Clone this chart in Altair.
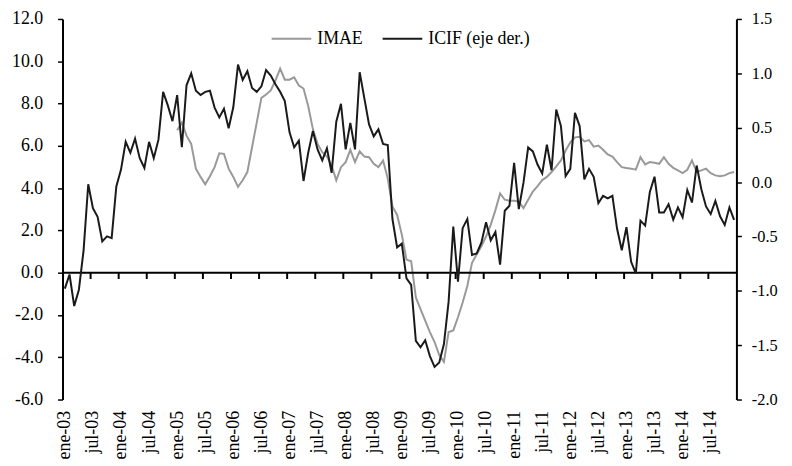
import altair as alt
import pandas as pd

# ---------------- data ----------------
icif = [
    -0.98, -0.85, -1.14, -0.99, -0.63, -0.02, -0.24, -0.32, -0.545, -0.50, -0.515, -0.04,
    0.115, 0.37, 0.27, 0.40, 0.22, 0.13, 0.37, 0.22, 0.39, 0.83, 0.705, 0.56,
    0.80, 0.32, 0.89, 1.00, 0.84, 0.80, 0.83, 0.84, 0.685, 0.595, 0.675, 0.495,
    0.69, 1.08, 0.94, 1.02, 0.865, 0.83, 0.88, 1.03, 0.98, 0.90, 0.83, 0.745,
    0.46, 0.32, 0.38, 0.01, 0.27, 0.47, 0.30, 0.20, 0.31, 0.085, 0.555, 0.72,
    0.30, 0.545, 0.30, 1.01, 0.77, 0.53, 0.42, 0.485, 0.35, 0.34, -0.34, -0.60,
    -0.566, -0.885, -0.945, -1.46, -1.52, -1.455, -1.60, -1.70, -1.66, -1.49, -1.10, -0.41,
    -0.915, -0.424, -0.34, -0.67, -0.657, -0.557, -0.37, -0.536, -0.46, -0.76, -0.264, -0.218,
    0.176, -0.248, -0.006, 0.318, 0.282, 0.161, 0.079, 0.343, 0.109, 0.667, 0.515, 0.055,
    0.122, 0.636, 0.515, 0.025, 0.122, 0.049, -0.194, -0.127, -0.151, -0.127, -0.43, -0.627,
    -0.415, -0.733, -0.839, -0.355, -0.40, -0.091, 0.049, -0.279, -0.279, -0.203, -0.345, -0.233,
    -0.324, -0.073, -0.188, 0.152, -0.066, -0.224, -0.294, -0.173, -0.315, -0.394, -0.233, -0.348,
]

imae_start = 24  # ene-05
imae = [
    6.74, 7.10, 6.48, 6.09, 4.92, 4.53, 4.18, 4.56, 4.99, 5.65, 5.62, 4.92,
    4.53, 4.06, 4.37, 4.76, 5.93, 7.10, 8.27, 8.43, 8.62, 9.09, 9.65, 9.13,
    9.13, 9.24, 8.85, 8.71, 7.88, 6.79, 6.09, 5.70, 5.49, 5.07, 4.37, 4.99,
    5.23, 5.81, 5.23, 5.74, 5.49, 5.46, 5.15, 4.99, 5.30, 4.45, 3.12, 2.73,
    1.80, 0.62, 0.54, -1.17, -1.72, -2.27, -2.81, -3.28, -3.90, -4.22, -2.81, -2.73,
    -2.11, -1.41, -0.63, 0.47, 0.86, 1.25, 1.71, 2.26, 2.96, 3.75, 3.45, 3.40,
    3.40, 3.36, 3.05, 3.45, 3.84, 4.09, 4.38, 4.53, 4.76, 5.03, 5.31, 5.78,
    6.16, 6.40, 6.43, 6.21, 6.27, 5.96, 6.01, 5.81, 5.59, 5.49, 5.23, 4.99,
    4.95, 4.92, 4.87, 5.46, 5.12, 5.23, 5.20, 5.15, 5.46, 5.15, 4.96, 4.84,
    4.71, 4.87, 5.31, 4.76, 4.84, 4.92, 4.71, 4.60, 4.56, 4.60, 4.71, 4.76,
]

x_labels = [
    "ene-03", "jul-03", "ene-04", "jul-04", "ene-05", "jul-05", "ene-06", "jul-06",
    "ene-07", "jul-07", "ene-08", "jul-08", "ene-09", "jul-09", "ene-10", "jul-10",
    "ene-11", "jul-11", "ene-12", "jul-12", "ene-13", "jul-13", "ene-14", "jul-14",
]
left_ticks = [-6, -4, -2, 0, 2, 4, 6, 8, 10, 12]
right_ticks = [-2.0, -1.5, -1.0, -0.5, 0.0, 0.5, 1.0, 1.5]
series_names = ["IMAE", "ICIF (eje der.)"]
series_colors = ["#999999", "#1a1a1a"]

n_months = len(icif)
TICK_LEN = 0.3  # length of the category tick marks, in left-axis units
df_icif = pd.DataFrame({"m": [i + 0.5 for i in range(n_months)], "v": icif, "serie": series_names[1]})
df_imae = pd.DataFrame({"m": [i + 0.5 for i in range(imae_start, imae_start + len(imae))], "v": imae, "serie": series_names[0]})
tick_pos = [6 * k for k in range(1, len(x_labels))]
df_ticks = pd.DataFrame({"m": tick_pos, "y0": [0.0] * len(tick_pos), "y1": [-TICK_LEN] * len(tick_pos)})
df_zero = pd.DataFrame({"v": [0.0]})

FONT = "Liberation Serif"
FS = 18
FS_R = 16.5

label_expr_x = "[" + ",".join(f"'{s}'" for s in x_labels) + "][floor(datum.value / 6)]"
num_expr = "(datum.value < 0 ? '-' : '') + format(abs(datum.value), '.1f')"

xscale = alt.Scale(domain=[0, n_months], nice=False, zero=False)
xaxis = alt.Axis(
    values=[6 * k + 0.5 for k in range(len(x_labels))],
    labelExpr=label_expr_x, labelAngle=-90, labelAlign="right", labelBaseline="middle",
    labelOverlap=False, labelBound=False, labelFlush=False,
    ticks=False, domain=False, grid=False, labelPadding=11, title=None,
    labelFont=FONT, labelFontSize=FS, labelColor="black",
)
x_enc = alt.X("m:Q", scale=xscale, axis=xaxis)

color = alt.Color(
    "serie:N",
    scale=alt.Scale(domain=series_names, range=series_colors),
    legend=alt.Legend(
        orient="none", legendX=210, legendY=-1, direction="horizontal", title=None,
        symbolType="stroke", symbolSize=1600, symbolStrokeWidth=2,
        labelFont=FONT, labelFontSize=FS, labelColor="black", labelOffset=5,
        columnPadding=16, padding=0,
    ),
)

left_axis = alt.Axis(
    values=left_ticks, labelExpr=num_expr, orient="left", title=None, grid=False,
    domainColor="black", domainWidth=2, tickColor="black", tickWidth=1.5, tickSize=5,
    labelPadding=15, labelFont=FONT, labelFontSize=FS, labelColor="black",
    labelOverlap=False,
)
right_axis = alt.Axis(
    values=right_ticks, labelExpr=num_expr, orient="right", title=None, grid=False,
    domainColor="black", domainWidth=2, tickColor="black", tickWidth=1.5, tickSize=5,
    labelPadding=10, labelFont=FONT, labelFontSize=FS_R, labelColor="black",
    labelOverlap=False,
)
left_scale = alt.Scale(domain=[-6, 12], nice=False, zero=False)
right_scale = alt.Scale(domain=[-2, 1.5], nice=False, zero=False)

imae_line = alt.Chart(df_imae).mark_line(strokeWidth=2).encode(
    x=x_enc, y=alt.Y("v:Q", scale=left_scale, axis=left_axis), color=color
)
zero_rule = alt.Chart(df_zero).mark_rule(color="black", strokeWidth=2).encode(
    y=alt.Y("v:Q", scale=left_scale, axis=left_axis)
)
tick_rules = alt.Chart(df_ticks).mark_rule(color="black", strokeWidth=2).encode(
    x=alt.X("m:Q", scale=xscale, axis=xaxis),
    y=alt.Y("y0:Q", scale=left_scale, axis=left_axis),
    y2=alt.Y2("y1:Q"),
)
left_group = alt.layer(imae_line, zero_rule, tick_rules)

icif_line = alt.Chart(df_icif).mark_line(strokeWidth=2).encode(
    x=x_enc, y=alt.Y("v:Q", scale=right_scale, axis=right_axis), color=color
)

chart = (
    alt.layer(left_group, icif_line)
    .resolve_scale(y="independent")
    .properties(
        width=680, height=384,
        autosize=alt.AutoSizeParams(type="none"),
        padding={"left": 55, "top": 9, "right": 48, "bottom": 65},
    )
    .configure_view(stroke=None)
    .configure_axis(labelOverlap=False)
    .configure_axisX(labelOverlap=False)
)

chart.save("out.html", embed_options={"renderer": "svg", "actions": False})
